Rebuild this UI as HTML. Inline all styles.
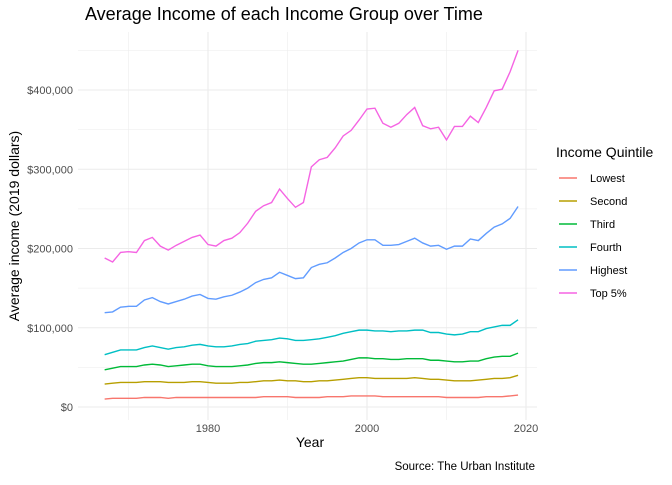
<!DOCTYPE html>
<html><head><meta charset="utf-8"><style>
body{margin:0;background:#fff;font-family:"Liberation Sans",sans-serif}
</style></head><body>
<svg id="chart" width="672" height="480" xmlns="http://www.w3.org/2000/svg" font-family="Liberation Sans, sans-serif">
<rect width="672" height="480" fill="#fff"/>
<text x="85" y="20" font-size="18" fill="#000">Average Income of each Income Group over Time</text>
<g id="grid"></g><g id="series"></g><g id="axes"></g><g id="legend"></g>
<text transform="translate(19,226) rotate(-90)" text-anchor="middle" font-size="14">Average income (2019 dollars)</text>
<text x="310" y="447" text-anchor="middle" font-size="14">Year</text>
<text x="535" y="470" text-anchor="end" font-size="11.5">Source: The Urban Institute</text>
</svg>
<script>
const years=[];for(let y=1967;y<=2019;y++)years.push(y);
const seriesNames=["Lowest","Second","Third","Fourth","Highest","Top 5%"];
const lowest=[10,11,11,11,11,12,12,12,11,12,12,12,12,12,12,12,12,12,12,12,13,13,13,13,12,12,12,12,13,13,13,14,14,14,14,13,13,13,13,13,13,13,13,12,12,12,12,12,13,13,13,14,15];
const second=[29,30,31,31,31,32,32,32,31,31,31,32,32,31,30,30,30,31,31,32,33,33,34,33,33,32,32,33,33,34,35,36,37,37,36,36,36,36,36,37,36,35,35,34,33,33,33,34,35,36,36,37,40];
const third=[47,49,51,51,51,53,54,53,51,52,53,54,54,52,51,51,51,52,53,55,56,56,57,56,55,54,54,55,56,57,58,60,62,62,61,61,60,60,61,61,61,59,59,58,57,57,58,58,61,63,64,64,68];
const fourth=[66,69,72,72,72,75,77,75,73,75,76,78,79,77,76,76,77,79,80,83,84,85,87,86,84,84,85,86,88,90,93,95,97,97,96,96,95,96,96,97,97,94,94,92,91,92,95,95,99,101,103,103,110];
const highest=[119,120,126,127,127,135,138,133,130,133,136,140,142,137,136,139,141,145,150,157,161,163,170,166,162,163,176,180,182,188,195,200,207,211,211,204,204,205,209,213,207,203,204,199,203,203,212,210,219,227,231,238,253];
const top5=[188,183,195,196,195,210,214,203,198,204,209,214,217,205,203,210,213,220,232,247,254,258,275,263,252,258,303,312,315,327,342,349,362,376,377,358,353,358,369,378,355,351,353,337,354,354,367,359,378,399,401,423,450];
const colors=["#F8766D","#B79F00","#00BA38","#00BFC4","#619CFF","#F564E3"];
const yTicks=[0,100,200,300,400];
const yTickLabels=["$0","$100,000","$200,000","$300,000","$400,000"];
const xTicks=[1980,2000,2020];
const all=[lowest,second,third,fourth,highest,top5];
const NS="http://www.w3.org/2000/svg";
const L=78,R=537,T=32,B=420;
const x=v=>208+(v-1980)*(367-208)/20;
const y=v=>407-v*(407-90)/400;
function mk(t,a,p){const e=document.createElementNS(NS,t);for(const k in a)e.setAttribute(k,a[k]);p.appendChild(e);return e;}
const g=document.getElementById('grid');
for(let v=-50;v<=450;v+=50){if(y(v)<T||y(v)>B)continue;const major=v%100===0;
 const l=mk('line',{x1:L,x2:R,y1:y(v),y2:y(v),stroke:'#ebebeb','stroke-width':major?1.1:0.55},g);
 }
for(let v=1970;v<=2020;v+=10){const major=v%20===0;
 const l=mk('line',{x1:x(v),x2:x(v),y1:T,y2:B,stroke:'#ebebeb','stroke-width':major?1.1:0.55},g);
 }
const s=document.getElementById('series');
all.forEach((arr,i)=>{const p=mk('polyline',{points:arr.map((v,j)=>x(years[j])+','+y(v)).join(' '),fill:'none',stroke:colors[i],'stroke-width':1.4},s);
 });
const a=document.getElementById('axes');
yTicks.forEach((v,i)=>{const t=mk('text',{x:73,y:y(v)+4,'text-anchor':'end','font-size':11,fill:'#4d4d4d'},a);t.textContent=yTickLabels[i];
 });
xTicks.forEach(v=>{const t=mk('text',{x:x(v),y:432,'text-anchor':'middle','font-size':11,fill:'#4d4d4d'},a);t.textContent=v;
 });
const lg=document.getElementById('legend');
const lt=mk('text',{x:556,y:157,'font-size':14},lg);lt.textContent='Income Quintile';

seriesNames.forEach((n,i)=>{const yy=178+i*23;
 const gr=mk('g',{},lg);
 mk('line',{x1:559,x2:577,y1:yy,y2:yy,stroke:colors[i],'stroke-width':1.4},gr);
 const t=mk('text',{x:590,y:yy+4,'font-size':11,fill:'#000'},gr);t.textContent=n;});
</script>
</body></html>
